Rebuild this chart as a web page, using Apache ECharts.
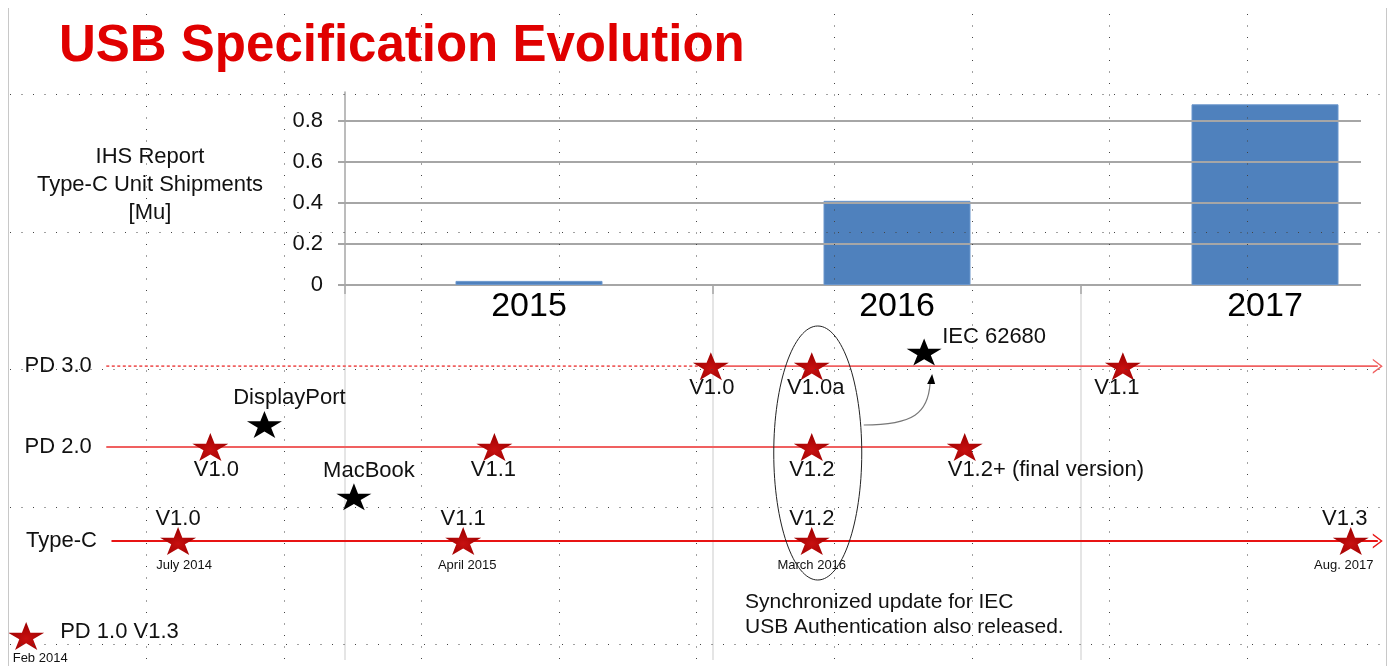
<!DOCTYPE html>
<html><head><meta charset="utf-8">
<script src="https://cdn.jsdelivr.net/npm/echarts@6/dist/echarts.min.js"></script>
<style>html,body{margin:0;padding:0;background:#fff}#c{width:1388px;height:666px}</style>
</head><body><div id="c"></div>
<script>
// ---------------- data ----------------
const years = ['2015', '2016', '2017'];
const shipments = [0.02, 0.41, 0.88];            // IHS Type-C unit shipments [Mu]
const shipmentTicks = [0, 0.2, 0.4, 0.6, 0.8];

const lanes = ['PD 3.0', 'PD 2.0', 'Type-C'];
const laneLevel = [1.86, 1, 0];
const laneStart = ['2014-04-23', '2014-04-23', '2014-04-28'];
const laneSolidFrom = ['2015-11-25', null, null];
const laneEnd = ['2017-08-27', '2016-07-26', '2017-08-27'];
const laneArrow = [true, false, true];

const pd3Dates = ['2015-11-25', '2016-03-01', '2016-12-25'];
const pd3Versions = ['V1.0', 'V1.0a', 'V1.1'];
const pd2Dates = ['2014-08-01', '2015-05-01', '2016-03-01', '2016-07-26'];
const pd2Versions = ['V1.0', 'V1.1', 'V1.2', 'V1.2+ (final version)'];
const typeCDates = ['2014-07-01', '2015-04-01', '2016-03-01', '2017-08-01'];
const typeCVersions = ['V1.0', 'V1.1', 'V1.2', 'V1.3'];
const typeCDateLabels = ['July 2014', 'April 2015', 'March 2016', 'Aug. 2017'];
const pd1Date = '2014-02-05';
const pd1Level = -1.01;
const pd1Label = 'PD 1.0 V1.3';
const pd1DateLabel = 'Feb 2014';
const eventNames = ['DisplayPort', 'MacBook', 'IEC 62680'];
const eventDates = ['2014-09-22', '2014-12-17', '2016-06-17'];
const eventLevels = [1.24, 0.47, 2.01];

// ---------------- helpers / styles ----------------
const FONT = '"Liberation Sans", Arial, sans-serif';
const t = s => { const p = s.split('-').map(Number); return new Date(p[0], p[1] - 1, p[2] || 1).getTime(); };
const STAR = 'path://M50,0 L61.23,34.55 L97.55,34.55 L68.17,55.9 L79.39,90.45 L50,69.1 L20.61,90.45 L31.83,55.9 L2.45,34.55 L38.77,34.55 Z';
const CHEVRON = 'path://M0,0 L12,8 L0,16 L0,14.2 L9.3,8 L0,1.8 Z';
const STAR_SIZE = [36, 28];
const RED_STAR = { type: 'radial', x: 0.5, y: 0.6, r: 0.55, colorStops: [{ offset: 0, color: '#c81010' }, { offset: 1, color: '#9e0000' }] };
const TXT = { color: '#111', fontFamily: FONT, fontSize: 22 };
const laneColor = ['#f06060', '#f06060', '#e81414'];

const chart = echarts.init(document.getElementById('c'), null, { renderer: 'canvas' });

const series = [];
// bar chart gridlines
series.push({
  type: 'line', xAxisIndex: 0, yAxisIndex: 0, data: [], z: 1, silent: true,
  markLine: { silent: true, symbol: 'none', animation: false, label: { show: false },
    lineStyle: { color: '#a6a6a6', width: 2, type: 'solid' },
    data: shipmentTicks.filter(v => v > 0).map(v => ({ yAxis: v })) }
});
series.push({
  type: 'bar', xAxisIndex: 0, yAxisIndex: 0, data: shipments, barWidth: 147, z: 2,
  itemStyle: { color: '#4f81bd', borderColor: '#6b96cc', borderWidth: 1, opacity: 1 }
});
// lane lines
lanes.forEach((name, i) => {
  const lvl = laneLevel[i];
  const base = { type: 'line', xAxisIndex: 1, yAxisIndex: 1, showSymbol: false, symbol: 'none', silent: true, z: 3 };
  if (laneSolidFrom[i]) {
    series.push(Object.assign({}, base, { data: [[t(laneStart[i]), lvl], [t(laneSolidFrom[i]), lvl]],
      lineStyle: { color: laneColor[i], width: 1.6, type: [3, 2.5] } }));
    series.push(Object.assign({}, base, { data: [[t(laneSolidFrom[i]), lvl], [t(laneEnd[i]), lvl]],
      lineStyle: { color: laneColor[i], width: 1.8 } }));
  } else {
    series.push(Object.assign({}, base, { data: [[t(laneStart[i]), lvl], [t(laneEnd[i]), lvl]],
      lineStyle: { color: laneColor[i], width: 1.8 } }));
  }
});
// lane names
series.push({
  type: 'scatter', xAxisIndex: 1, yAxisIndex: 1, symbolSize: 1, silent: true, z: 4,
  itemStyle: { color: 'rgba(0,0,0,0)', opacity: 1 },
  data: lanes.map((n, i) => ({ name: n, value: [t(laneStart[i]), laneLevel[i]] })),
  label: Object.assign({ show: true, position: 'left', distance: 14, formatter: '{b}' }, TXT)
});
// arrow heads
series.push({
  type: 'scatter', xAxisIndex: 1, yAxisIndex: 1, symbol: CHEVRON, symbolSize: [10, 15], silent: true, z: 4,
  data: lanes.map((n, i) => laneArrow[i] ? { value: [t(laneEnd[i]), laneLevel[i]], itemStyle: { color: laneColor[i], opacity: 1 } } : null).filter(Boolean)
});
// PD 3.0 releases
const pd3Off = [[1, 22], [4, 22], [-6, 22]];
series.push({
  type: 'scatter', xAxisIndex: 1, yAxisIndex: 1, symbol: STAR, symbolSize: STAR_SIZE, z: 5, silent: true,
  itemStyle: { color: RED_STAR, opacity: 1 },
  data: pd3Dates.map((d, i) => ({ name: pd3Versions[i], value: [t(d), laneLevel[0]], label: { offset: pd3Off[i] } })),
  label: Object.assign({ show: true, position: 'inside', formatter: '{b}' }, TXT)
});
// PD 2.0 releases
const pd2Off = [[6, 23], [-1, 23], [0, 23], [-17, 23]];
series.push({
  type: 'scatter', xAxisIndex: 1, yAxisIndex: 1, symbol: STAR, symbolSize: STAR_SIZE, z: 5, silent: true,
  itemStyle: { color: RED_STAR, opacity: 1 },
  data: pd2Dates.map((d, i) => ({ name: pd2Versions[i], value: [t(d), laneLevel[1]],
    label: i === 3 ? { offset: pd2Off[i], align: 'left' } : { offset: pd2Off[i] } })),
  label: Object.assign({ show: true, position: 'inside', formatter: '{b}' }, TXT)
});
// Type-C releases (+ PD 1.0 legend star)
const tcOff = [[0, -22], [0, -22], [0, -22], [-6, -22]];
series.push({
  type: 'scatter', xAxisIndex: 1, yAxisIndex: 1, symbol: STAR, symbolSize: STAR_SIZE, z: 5, silent: true,
  itemStyle: { color: RED_STAR, opacity: 1 },
  data: typeCDates.map((d, i) => ({ name: typeCVersions[i], value: [t(d), laneLevel[2]], label: { offset: tcOff[i] } }))
    .concat([{ name: pd1Label, value: [t(pd1Date), pd1Level], label: { offset: [34, -4], align: 'left' } }]),
  label: Object.assign({ show: true, position: 'inside', formatter: '{b}' }, TXT)
});
// small date labels
const dOff = [[6, 24], [4, 24], [0, 24], [-7, 24]];
series.push({
  type: 'scatter', xAxisIndex: 1, yAxisIndex: 1, symbolSize: 1, z: 5, silent: true,
  itemStyle: { color: 'rgba(0,0,0,0)', opacity: 1 },
  data: typeCDates.map((d, i) => ({ name: typeCDateLabels[i], value: [t(d), laneLevel[2]], label: { offset: dOff[i] } }))
    .concat([{ name: pd1DateLabel, value: [t(pd1Date), pd1Level], label: { offset: [14, 22] } }]),
  label: { show: true, position: 'inside', formatter: '{b}', color: '#111', fontFamily: FONT, fontSize: 13 }
});
// other events (black stars)
const evOff = [[25, -27], [15, -26], [18, -15]];
series.push({
  type: 'scatter', xAxisIndex: 1, yAxisIndex: 1, symbol: STAR, symbolSize: [35, 27], z: 5, silent: true,
  itemStyle: { color: '#000', opacity: 1 },
  data: eventNames.map((n, i) => ({ name: n, value: [t(eventDates[i]), eventLevels[i]],
    label: i === 2 ? { offset: evOff[i], align: 'left' } : { offset: evOff[i] } })),
  label: Object.assign({ show: true, position: 'inside', formatter: '{b}' }, TXT)
});

chart.setOption({
  animation: false,
  backgroundColor: '#fff',
  title: { text: 'USB Specification Evolution', left: 54, top: 16,
    textStyle: { color: '#e00000', fontSize: 51, fontWeight: 'bold', fontFamily: FONT } },
  grid: [
    { left: 345, width: 1104, top: 92, height: 193, outerBoundsMode: 'none', containLabel: false },
    { left: 22, right: 5, top: 282.5, bottom: 7.5, outerBoundsMode: 'none', containLabel: false },
    { left: 345, width: 1104, top: 285, bottom: 6, outerBoundsMode: 'none', containLabel: false }
  ],
  xAxis: [
    { type: 'category', gridIndex: 0, data: years,
      axisLine: { lineStyle: { color: '#a6a6a6', width: 2 } },
      axisTick: { show: true, length: 9, lineStyle: { color: '#a6a6a6', width: 1.5 } },
      axisLabel: { fontSize: 34, color: '#000', margin: 5, fontFamily: FONT },
      splitLine: { show: false } },
    { type: 'time', gridIndex: 1, min: t('2014-02-01'), max: t('2017-09-01'), show: false },
    { type: 'category', gridIndex: 2, data: years,
      axisLine: { show: false }, axisTick: { show: false }, axisLabel: { show: false },
      splitLine: { show: true, lineStyle: { color: '#dcdcdc', width: 1.5 } } }
  ],
  yAxis: [
    { type: 'value', gridIndex: 0, min: 0, max: 0.94, interval: 0.2,
      axisLine: { show: true, lineStyle: { color: '#a6a6a6', width: 1.5 } },
      axisTick: { show: true, length: 7, customValues: shipmentTicks, lineStyle: { color: '#a6a6a6', width: 2 } },
      axisLabel: { customValues: shipmentTicks, fontSize: 22, color: '#111', margin: 22, fontFamily: FONT,
        formatter: v => (v === 0 ? '0' : v.toFixed(1)) },
      splitLine: { show: false } },
    { type: 'value', gridIndex: 1, min: -1.25, max: 2.75, show: false },
    { type: 'value', gridIndex: 2, min: 0, max: 1, show: false }
  ],
  series: series
});

// ---------------- annotations ----------------
const P = (d, l) => chart.convertToPixel({ xAxisIndex: 1, yAxisIndex: 1 }, [t(d), l]);
const ec = P(pd2Dates[2], laneLevel[1]);
const iec = P(eventDates[2], eventLevels[2]);
const g = [];
// slide border + PowerPoint-like dotted guides
g.push({ type: 'line', z: 90, silent: true, shape: { x1: 8.5, y1: 8, x2: 8.5, y2: 666 }, style: { stroke: '#c8c8c8', lineWidth: 1 } });
g.push({ type: 'line', z: 90, silent: true, shape: { x1: 1386.5, y1: 8, x2: 1386.5, y2: 666 }, style: { stroke: '#c8c8c8', lineWidth: 1 } });
[94, 231.6, 369.2, 506.8, 644.4].forEach(y => g.push({ type: 'line', z: 100, silent: true,
  shape: { x1: 10, y1: Math.round(y) + 0.5, x2: 1386, y2: Math.round(y) + 0.5 }, style: { stroke: '#444', lineWidth: 1, lineDash: [1, 10.5] } }));
[146, 283.6, 421.2, 558.8, 696.4, 834, 971.6, 1109.2, 1246.8].forEach(x => g.push({ type: 'line', z: 100, silent: true,
  shape: { x1: Math.round(x) + 0.5, y1: 14, x2: Math.round(x) + 0.5, y2: 666 }, style: { stroke: '#444', lineWidth: 1, lineDash: [1, 10.5] } }));
// right margin of the bar chart
g.push({ type: 'rect', z: 50, silent: true, shape: { x: 1361, y: 96, width: 27, height: 196 }, style: { fill: '#fff' } });
// y-axis title
g.push({ type: 'text', z: 60, silent: true, style: { x: 150, y: 185, text: 'IHS Report\nType-C Unit Shipments\n[Mu]',
  align: 'center', verticalAlign: 'middle', textAlign: 'center', textVerticalAlign: 'middle', lineHeight: 28,
  font: '22px ' + FONT, fill: '#111' } });
// ellipse around synchronized releases
g.push({ type: 'ellipse', z: 60, silent: true, shape: { cx: ec[0] + 6, cy: ec[1] + 6, rx: 44, ry: 127 },
  style: { fill: 'none', stroke: '#222', lineWidth: 1 } });
// curved arrow to IEC 62680
const sx = ec[0] + 52, sy = ec[1] - 22, tx = iec[0] + 7, ty = iec[1] + 22;
g.push({ type: 'bezierCurve', z: 60, silent: true,
  shape: { x1: sx, y1: sy, cpx1: sx + 50, cpy1: sy, cpx2: tx - 3, cpy2: sy - 12, x2: tx - 1, y2: ty + 9 },
  style: { stroke: '#777', lineWidth: 1.2, fill: 'none' } });
g.push({ type: 'polygon', z: 60, silent: true, shape: { points: [[tx + 1, ty], [tx - 4, ty + 10], [tx + 4, ty + 10]] },
  style: { fill: '#000' } });
// note
g.push({ type: 'text', z: 60, silent: true, style: { x: 745, y: 614.5,
  text: 'Synchronized update for IEC\nUSB Authentication also released.',
  align: 'left', verticalAlign: 'middle', textVerticalAlign: 'middle', lineHeight: 25, font: '21px ' + FONT, fill: '#111' } });

chart.setOption({ graphic: { elements: g } });
</script>
</body></html>
